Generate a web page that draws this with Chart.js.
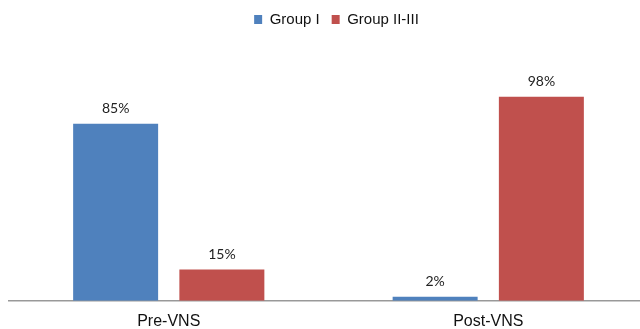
<!DOCTYPE html>
<html>
<head>
<meta charset="utf-8">
<script src="https://cdn.jsdelivr.net/npm/chart.js@4.4.1/dist/chart.umd.min.js"></script>
<style>
  html, body { margin: 0; padding: 0; background: #fff; overflow: hidden; }
  #wrap { width: 652px; height: 342px; }
</style>
</head>
<body>
<div id="wrap"><canvas id="myChart" width="652" height="342"></canvas></div>
<script>
const categories = ['Pre-VNS', 'Post-VNS']
const groupI = [85, 2]
const groupII_III = [15, 98]
const seriesNames = ['Group I', 'Group II-III']

// draws the percent labels above each bar
const barLabels = {
    id: 'barLabels',
    afterDatasetsDraw(chart) {
        const ctx = chart.ctx;
        ctx.save();
        ctx.font = '14px Lato';
        ctx.fillStyle = '#222';
        ctx.textAlign = 'center';
        ctx.textBaseline = 'alphabetic';
        chart.data.datasets.forEach((ds, i) => {
            chart.getDatasetMeta(i).data.forEach((bar, j) => {
                ctx.fillText(ds.data[j] + '%', bar.x, bar.y - 11);
            });
        });
        ctx.restore();
    }
}

// extra room under the legend, and nudge it a bit to the right
const legendSpace = {
    id: 'legendSpace',
    beforeInit(chart) {
        const lg = chart.legend;
        const fit = lg.fit;
        lg.fit = function () {
            fit.bind(lg)();
            this.height += 14;
        };
        const draw = lg.draw;
        lg.draw = function () {
            this.left += 8; this.right += 8;
            draw.bind(lg)();
            this.left -= 8; this.right -= 8;
        };
    }
}

const ctx = document.getElementById('myChart').getContext('2d');
const myChart = new Chart(ctx, {
    type: 'bar',
    data: {
        labels: categories,
        datasets: [{
            label: seriesNames[0],
            data: groupI,
            backgroundColor: '#4F81BD'
        }, {
            label: seriesNames[1],
            data: groupII_III,
            backgroundColor: '#C0504D'
        }]
    },
    options: {
        responsive: false,
        animation: false,
        categoryPercentage: 0.665,
        barPercentage: 0.8,
        layout: { padding: { left: 9, right: 4, top: 0, bottom: 0 } },
        plugins: {
            legend: {
                position: 'top',
                labels: {
                    boxWidth: 8,
                    boxHeight: 9,
                    padding: 12,
                    color: '#111',
                    font: { family: 'Liberation Sans', size: 15 }
                }
            },
            tooltip: { enabled: false }
        },
        scales: {
            x: {
                grid: { display: false, drawTicks: false },
                border: { display: true, color: '#999', width: 1.5 },
                ticks: {
                    padding: 11,
                    color: '#111',
                    font: { family: 'Liberation Sans', size: 16 }
                }
            },
            y: {
                display: false,
                min: 0,
                max: 120
            }
        }
    },
    plugins: [barLabels, legendSpace]
});
</script>
</body>
</html>
